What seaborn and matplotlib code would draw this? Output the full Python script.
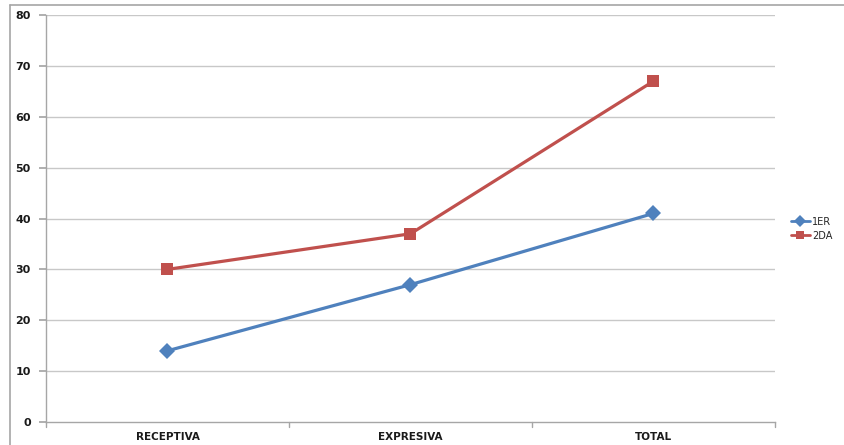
import matplotlib
matplotlib.use("Agg")
import matplotlib.pyplot as plt
import seaborn as sns
import pandas as pd
from matplotlib.lines import Line2D

categories = ["RECEPTIVA", "EXPRESIVA", "TOTAL"]
serie_1er = [14, 27, 41]
serie_2da = [30, 37, 67]
series_names = ["1ER", "2DA"]
y_ticks = [0, 10, 20, 30, 40, 50, 60, 70, 80]

df = pd.DataFrame({
    "categoria": categories * 2,
    "valor": serie_1er + serie_2da,
    "serie": [series_names[0]] * 3 + [series_names[1]] * 3,
})
df["pos"] = df["categoria"].map({c: i for i, c in enumerate(categories)})

sns.set_theme(style="white")
plt.rcParams["font.family"] = ["DejaVu Sans"]

W, H = 844, 445
fig = plt.figure(figsize=(W / 100, H / 100), dpi=100)
ax = fig.add_axes([46 / W, 1 - 422 / H, (775 - 46) / W, (422 - 15) / H])

palette = {"1ER": "#4F81BD", "2DA": "#C0504D"}
markers = {"1ER": "D", "2DA": "s"}
sns.lineplot(data=df, x="pos", y="valor", hue="serie", style="serie",
             palette=palette, markers=markers, dashes=False,
             markersize=8, linewidth=2.3, markeredgewidth=0, ax=ax, legend=False)

ax.set_xlim(-0.5, 2.5)
ax.set_ylim(0, 80)
ax.set_yticks(y_ticks)
ax.set_yticklabels([str(t) for t in y_ticks], fontsize=8, fontweight="bold",
                   color="#1a1a1a")
ax.set_xticks([0, 1, 2])
ax.set_xticklabels(categories, fontsize=7.5, fontweight="bold", color="#1a1a1a")
ax.set_xlabel("")
ax.set_ylabel("")

# horizontal gridlines
for t in y_ticks[1:]:
    ax.axhline(t, color="#C8C8C8", linewidth=1, zorder=0)

for s in ["top", "right"]:
    ax.spines[s].set_visible(False)
for s in ["left", "bottom"]:
    ax.spines[s].set_color("#A6A6A6")
    ax.spines[s].set_linewidth(1)

ax.tick_params(axis="y", length=5, color="#A6A6A6", pad=6, left=True)
ax.tick_params(axis="x", length=0, pad=7.5)
# category boundary ticks
for xb in [-0.5, 0.5, 1.5, 2.5]:
    ax.plot([xb, xb], [0, -0.012], transform=ax.get_xaxis_transform(),
            color="#A6A6A6", linewidth=1, clip_on=False)

# legend
handles = [Line2D([0], [0], color=palette[n], marker=markers[n], markersize=6,
                  linewidth=2, markeredgewidth=0) for n in series_names]
fig.legend(handles, series_names, loc="upper left",
           bbox_to_anchor=(782 / W, 1 - 208 / H), frameon=False,
           fontsize=7, handlelength=2.0, handletextpad=0.2, labelspacing=0.4)

# chart frame
fig.add_artist(Line2D([10 / W, 10 / W], [0, 1 - 5 / H], color="#A6A6A6",
                      linewidth=1.2, transform=fig.transFigure))
fig.add_artist(Line2D([10 / W, 1], [1 - 5 / H, 1 - 5 / H], color="#A6A6A6",
                      linewidth=1.2, transform=fig.transFigure))

fig.savefig("out.png", dpi=100)
